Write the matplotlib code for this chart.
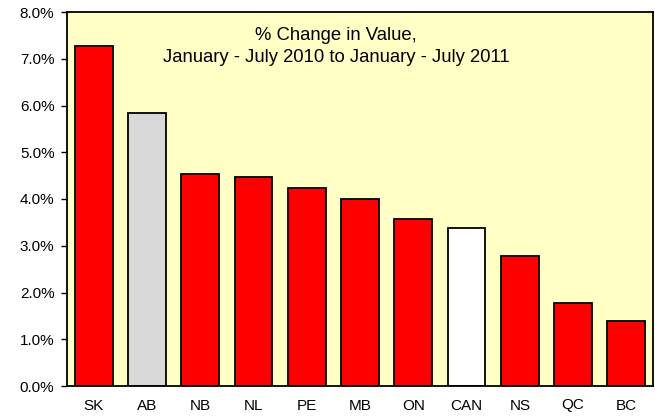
import matplotlib.pyplot as plt
import numpy as np
from matplotlib.ticker import FuncFormatter

plt.rcParams['font.family'] = ['Liberation Sans', 'DejaVu Sans']

# data
provinces = ['SK', 'AB', 'NB', 'NL', 'PE', 'MB', 'ON', 'CAN', 'NS', 'QC', 'BC']
change = [7.28, 5.83, 4.53, 4.48, 4.23, 4.0, 3.58, 3.37, 2.78, 1.78, 1.38]
colours = ['#ff0000', '#d9d9d9', '#ff0000', '#ff0000', '#ff0000', '#ff0000',
           '#ff0000', '#ffffff', '#ff0000', '#ff0000', '#ff0000']

fig = plt.figure(figsize=(6.55, 4.17), dpi=100)
ax = fig.add_axes([67 / 655, 31 / 417, 586 / 655, 374 / 417])
ax.set_facecolor('#ffffc6')

x = np.arange(len(provinces))
ax.bar(x, change, width=0.71, color=colours, edgecolor='black', linewidth=1.3,
       zorder=2)

ax.set_xlim(-0.5, len(provinces) - 0.5)
ax.set_ylim(0, 8)
ax.set_yticks(np.arange(0, 8.01, 1))
ax.yaxis.set_major_formatter(FuncFormatter(lambda v, p: f'{v:.1f}%'))
ax.set_xticks(x)
ax.set_xticklabels(provinces)
ax.tick_params(axis='x', length=0, pad=9, labelsize=11)
ax.tick_params(axis='y', length=4, width=1, direction='out', pad=5, labelsize=11)

for s in ax.spines.values():
    s.set_linewidth(1.3)

ax.text(0.459, 0.925, '% Change in Value,', transform=ax.transAxes,
        ha='center', va='baseline', fontsize=13.3)
ax.text(0.459, 0.866, 'January - July 2010 to January - July 2011',
        transform=ax.transAxes, ha='center', va='baseline', fontsize=13.3)

fig.savefig('out.png', dpi=100)
